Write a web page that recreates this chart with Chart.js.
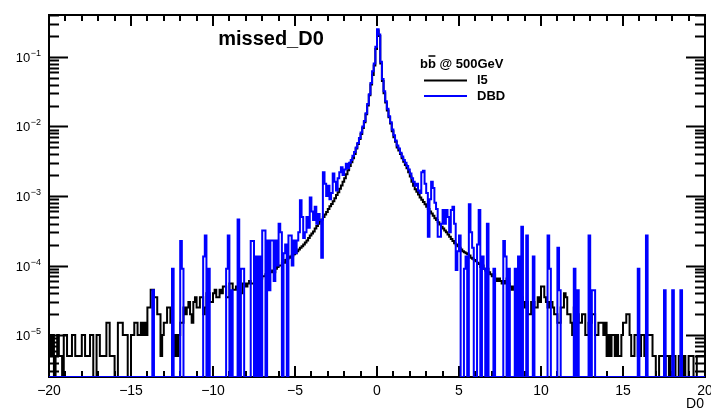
<!DOCTYPE html>
<html>
<head>
<meta charset="utf-8">
<script src="https://cdn.jsdelivr.net/npm/chart.js@4/dist/chart.umd.min.js"></script>
<style>
  html, body { margin: 0; padding: 0; background: #fff; }
  canvas { display: block; }
</style>
</head>
<body>
<canvas id="d0" width="711" height="411"></canvas>
<script>
// missed_D0 : impact parameter of missed tracks, bb @ 500GeV, two detector models
const X_MIN = -20, X_MAX = 20, BIN_W = 0.1;
const Y_MIN = 2.5e-6, Y_MAX = 0.4;
const X_TICKS = [-20, -15, -10, -5, 0, 5, 10, 15, 20];
const Y_DECADES = [-5, -4, -3, -2, -1];

// normalised bin contents, 400 bins of 0.1 from -20 to 20
const i5Counts = [
  1e-5, 5e-6, 1e-5, 0, 5e-6, 1e-5, 5e-6, 5e-6, 0, 1e-5,
  1e-5, 5e-6, 5e-6, 5e-6, 1e-5, 1e-5, 5e-6, 5e-6, 5e-6, 5e-6,
  1e-5, 1e-5, 5e-6, 5e-6, 5e-6, 1e-5, 1e-5, 0, 0, 1e-5,
  1e-5, 5e-6, 5e-6, 5e-6, 5e-6, 1.5e-5, 1.5e-5, 5e-6, 5e-6, 5e-6,
  0, 0, 1.5e-5, 1.5e-5, 1.5e-5, 1e-5, 1e-5, 1e-5, 0, 0,
  1e-5, 1e-5, 1.5e-5, 1.5e-5, 1e-5, 1e-5, 1.5e-5, 1e-5, 1.5e-5, 1e-5,
  2.5e-5, 2.5e-5, 4.5e-5, 4.5e-5, 3.5e-5, 3.5e-5, 2e-5, 2e-5, 5e-6, 1e-5,
  1.5e-5, 1.5e-5, 2.5e-5, 2.5e-5, 1.5e-5, 1e-5, 5e-6, 1e-5, 5e-6, 1e-5,
  1.5e-5, 1.5e-5, 2.5e-5, 2e-5, 2.5e-5, 3e-5, 2e-5, 1.5e-5, 3e-5, 3.5e-5,
  2.5e-5, 2.5e-5, 3.5e-5, 3.5e-5, 2e-5, 2.5e-5, 4e-5, 4e-5, 3e-5, 3e-5,
  4e-5, 4.5e-5, 3.5e-5, 3.5e-5, 4.5e-5, 4e-5, 5e-5, 5e-5, 3.5e-5, 3.5e-5,
  5.5e-5, 5.5e-5, 4.5e-5, 4.5e-5, 5e-5, 5e-5, 4e-5, 4e-5, 5.5e-5, 5.5e-5,
  5e-5, 5.5e-5, 6e-5, 5.5e-5, 5.5e-5, 6e-5, 6.5e-5, 6e-5, 6e-5, 6.5e-5,
  7e-5, 7e-5, 7.5e-5, 7e-5, 8e-5, 8e-5, 8.5e-5, 8e-5, 9e-5, 9.5e-5,
  1e-4, 1e-4, 1.1e-4, 1.1e-4, 1.2e-4, 1.25e-4, 1.3e-4, 1.35e-4, 1.4e-4, 1.45e-4,
  1.5e-4, 1.6e-4, 1.7e-4, 1.8e-4, 1.9e-4, 2e-4, 2.15e-4, 2.3e-4, 2.5e-4, 2.7e-4,
  2.9e-4, 3.1e-4, 3.4e-4, 3.7e-4, 4e-4, 4.3e-4, 4.6e-4, 5e-4, 5.4e-4, 5.9e-4,
  6.5e-4, 7.1e-4, 7.7e-4, 8.4e-4, 9.3e-4, 1.03e-3, 1.13e-3, 1.27e-3, 1.42e-3, 1.6e-3,
  1.8e-3, 2.05e-3, 2.35e-3, 2.7e-3, 3.05e-3, 3.5e-3, 4e-3, 4.8e-3, 5.6e-3, 6.6e-3,
  7.8e-3, 9.5e-3, 1.15e-2, 1.5e-2, 2e-2, 2.8e-2, 4e-2, 5.5e-2, 7.5e-2, 0.13,
  0.24, 0.2, 0.08, 4.5e-2, 3e-2, 2.2e-2, 1.7e-2, 1.35e-2, 1.1e-2, 8.5e-3,
  7e-3, 6e-3, 5e-3, 4.5e-3, 4e-3, 3.5e-3, 3.1e-3, 2.8e-3, 2.5e-3, 2.2e-3,
  1.9e-3, 1.6e-3, 1.4e-3, 1.25e-3, 1.15e-3, 1.05e-3, 9.5e-4, 8.8e-4, 8.2e-4, 7.6e-4,
  7e-4, 6.5e-4, 6e-4, 5.6e-4, 5.2e-4, 4.8e-4, 4.5e-4, 4.2e-4, 3.9e-4, 3.6e-4,
  3.4e-4, 3.2e-4, 3e-4, 2.8e-4, 2.6e-4, 2.4e-4, 2.25e-4, 2.1e-4, 2e-4, 1.9e-4,
  1.8e-4, 1.7e-4, 1.6e-4, 1.55e-4, 1.5e-4, 1.45e-4, 1.4e-4, 1.3e-4, 1.25e-4, 1.2e-4,
  1.15e-4, 1.1e-4, 1.05e-4, 9.5e-5, 1e-4, 9e-5, 8.5e-5, 9e-5, 8e-5, 7.5e-5,
  7e-5, 7.5e-5, 6.5e-5, 6e-5, 6.5e-5, 6e-5, 5.5e-5, 6e-5, 5.5e-5, 6.5e-5,
  5.5e-5, 5e-5, 4.5e-5, 5e-5, 5e-5, 4.5e-5, 4e-5, 4.5e-5, 3.5e-5, 3e-5,
  2.5e-5, 3e-5, 2e-5, 2e-5, 3e-5, 3e-5, 2.5e-5, 2.5e-5, 3.5e-5, 3e-5,
  5e-5, 5e-5, 3.5e-5, 3e-5, 2.5e-5, 3e-5, 3e-5, 2.5e-5, 2e-5, 2e-5,
  1.5e-5, 1.5e-5, 2.5e-5, 2.5e-5, 4e-5, 3.5e-5, 2e-5, 2e-5, 1.5e-5, 1e-5,
  2.5e-5, 2.5e-5, 2e-5, 1.5e-5, 1.5e-5, 2e-5, 2e-5, 1e-5, 1e-5, 1.5e-5,
  1.5e-5, 2e-5, 2e-5, 1e-5, 1e-5, 1.5e-5, 1.5e-5, 1.5e-5, 1e-5, 1.5e-5,
  5e-6, 1e-5, 5e-6, 1e-5, 1e-5, 5e-6, 1e-5, 5e-6, 5e-6, 1e-5,
  1.5e-5, 1.5e-5, 2e-5, 2e-5, 1e-5, 5e-6, 5e-6, 1e-5, 1e-5, 5e-6,
  5e-6, 1e-5, 1e-5, 5e-6, 1e-5, 1e-5, 1e-5, 1e-5, 5e-6, 5e-6,
  0, 0, 5e-6, 5e-6, 5e-6, 0, 5e-6, 5e-6, 0, 5e-6,
  5e-6, 5e-6, 0, 0, 5e-6, 5e-6, 0, 5e-6, 0, 0,
  5e-6, 5e-6, 5e-6, 0, 0, 5e-6, 5e-6, 5e-6, 5e-6, 5e-6
];

const dbdCounts = [
  0, 0, 0, 0, 0, 0, 0, 0, 0, 0,
  0, 0, 0, 0, 0, 0, 0, 0, 0, 0,
  0, 0, 0, 0, 0, 0, 0, 0, 0, 0,
  0, 0, 0, 0, 0, 0, 0, 0, 0, 0,
  0, 0, 0, 0, 0, 0, 0, 0, 0, 0,
  0, 0, 0, 0, 0, 0, 0, 0, 0, 0,
  0, 0, 0, 4.4e-5, 0, 0, 0, 0, 0, 0,
  0, 0, 0, 0, 0, 9e-5, 0, 0, 0, 0,
  2.25e-4, 9e-5, 0, 0, 0, 0, 0, 0, 0, 0,
  0, 0, 0, 0, 1.35e-4, 2.7e-4, 0, 9e-5, 0, 0,
  0, 0, 0, 0, 0, 0, 0, 0, 9e-5, 2.7e-4,
  0, 4.4e-5, 0, 0, 0, 4.6e-4, 0, 9e-5, 9e-5, 0,
  0, 0, 0, 2.25e-4, 2.25e-4, 0, 1.35e-4, 0, 1.35e-4, 0,
  3.2e-4, 3.2e-4, 0, 2.3e-4, 4.4e-5, 2.3e-4, 2.3e-4, 6e-5, 2.3e-4, 1e-4,
  4e-4, 3e-4, 0, 1.5e-4, 2e-4, 0, 2.7e-4, 2.7e-4, 1e-4, 2.3e-4,
  1.5e-4, 2.3e-4, 3e-4, 8.7e-4, 5e-4, 2.5e-4, 3e-4, 5e-4, 3.5e-4, 9.5e-4,
  6e-4, 4.5e-4, 7e-4, 4e-4, 5.5e-4, 4.5e-4, 1.3e-4, 2.2e-3, 1.5e-3, 1e-3,
  1.4e-3, 9e-4, 1.1e-3, 2.1e-3, 1.6e-3, 1.2e-3, 1.8e-3, 2.2e-3, 2.6e-3, 2e-3,
  2.4e-3, 2.9e-3, 2.5e-3, 3e-3, 3.3e-3, 3.8e-3, 4.3e-3, 5e-3, 5.8e-3, 6.8e-3,
  8.2e-3, 1e-2, 1.2e-2, 1.55e-2, 2.1e-2, 2.9e-2, 4.2e-2, 6.2e-2, 8e-2, 0.14,
  0.25, 0.21, 0.085, 4.8e-2, 3.2e-2, 2.3e-2, 1.8e-2, 1.4e-2, 1.15e-2, 9e-3,
  7.5e-3, 6.3e-3, 5.3e-3, 4.8e-3, 4.2e-3, 3.7e-3, 3.3e-3, 3e-3, 2.7e-3, 2.4e-3,
  2.1e-3, 1.8e-3, 1.6e-3, 1.4e-3, 1.5e-3, 1.2e-3, 1.1e-3, 2.2e-3, 2.3e-3, 1.5e-3,
  1.1e-3, 2.6e-4, 9e-4, 1.6e-3, 1.3e-3, 8e-4, 6.5e-4, 2.6e-4, 2.6e-4, 4e-4,
  6.3e-4, 4e-4, 6.3e-4, 5e-4, 3e-4, 6.3e-4, 7e-4, 4e-4, 8.6e-5, 1.6e-4,
  2.7e-4, 0, 0, 9e-5, 1.35e-4, 0, 7.6e-4, 3e-4, 1.8e-4, 0,
  0, 2e-4, 6.3e-4, 0, 1.35e-4, 9e-5, 0, 4e-4, 0, 0,
  0, 9e-5, 0, 0, 0, 0, 0, 2.25e-4, 1.35e-4, 0,
  9e-5, 0, 0, 0, 9e-5, 0, 1.35e-4, 0, 3.6e-4, 0,
  0, 2.7e-4, 0, 0, 0, 1.35e-4, 0, 0, 0, 0,
  0, 0, 0, 0, 2.7e-4, 9e-5, 0, 0, 0, 0,
  1.8e-4, 4.4e-5, 0, 0, 0, 0, 0, 0, 0, 0,
  9e-5, 0, 4.4e-5, 0, 0, 0, 0, 0, 0, 2.7e-4,
  0, 4.4e-5, 4.4e-5, 0, 0, 0, 0, 0, 0, 0,
  0, 0, 0, 0, 0, 0, 0, 0, 0, 0,
  0, 0, 0, 0, 0, 0, 0, 0, 0, 9e-5,
  0, 0, 0, 0, 2.7e-4, 0, 0, 0, 0, 0,
  0, 0, 0, 0, 0, 4.4e-5, 0, 0, 0, 0,
  4.4e-5, 0, 0, 0, 0, 4.4e-5, 0, 0, 0, 0,
  0, 0, 0, 0, 0, 0, 0, 0, 0, 0
];

const FONT = '"Liberation Sans", Arial, Helvetica, sans-serif';

// histogram outline: one point per lower bin edge, plus the last upper edge.
// empty bins sit on the bottom of the frame like in a ROOT "HIST" draw
function toSteps(counts) {
  const pts = counts.map((c, i) => ({ x: X_MIN + i * BIN_W, y: Math.max(c, Y_MIN) }));
  pts.push({ x: X_MIN + counts.length * BIN_W, y: Math.max(counts[counts.length - 1], Y_MIN) });
  return pts;
}

function minus(v) { return v < 0 ? '\u2212' + Math.abs(v) : String(v); }

// ROOT style frame: inward ticks on all four sides
const rootFrame = {
  id: 'rootFrame',
  beforeDatasetsDraw(chart) {
    const { ctx, chartArea: a, scales: { x, y } } = chart;
    ctx.save();
    ctx.strokeStyle = '#000';
    ctx.lineWidth = 2;
    ctx.beginPath();
    for (let v = X_MIN; v <= X_MAX; v++) {
      const px = Math.round(x.getPixelForValue(v));
      const len = v % 5 === 0 ? 11 : 6;
      ctx.moveTo(px, a.bottom); ctx.lineTo(px, a.bottom - len);
      ctx.moveTo(px, a.top); ctx.lineTo(px, a.top + len);
    }
    for (let e = -6; e <= 0; e++) {
      for (let m = 1; m <= 9; m++) {
        const v = m * Math.pow(10, e);
        if (v < Y_MIN || v > Y_MAX) continue;
        const py = Math.round(y.getPixelForValue(v)) + 0.5;
        const len = m === 1 ? 19 : 10;
        ctx.moveTo(a.left, py); ctx.lineTo(a.left + len, py);
        ctx.moveTo(a.right, py); ctx.lineTo(a.right - len, py);
      }
    }
    ctx.stroke();
    ctx.strokeRect(a.left, a.top, a.right - a.left, a.bottom - a.top);
    ctx.restore();
  },
  afterDraw(chart) {
    const { ctx, scales: { y } } = chart;
    ctx.save();
    ctx.fillStyle = '#000';

    // y labels as 10^{n}
    ctx.textBaseline = 'alphabetic';
    Y_DECADES.forEach(e => {
      const py = y.getPixelForValue(Math.pow(10, e));
      const exp = '\u2212' + Math.abs(e);
      ctx.font = '9px ' + FONT;
      const we = ctx.measureText(exp).width;
      ctx.textAlign = 'right';
      ctx.fillText(exp, 41, py - 1);
      ctx.font = '13px ' + FONT;
      ctx.fillText('10', 41 - we - 0.5, py + 5);
    });

    // title
    ctx.font = 'bold 20px ' + FONT;
    ctx.textAlign = 'center';
    ctx.fillText('missed_D0', 271, 45);

    // axis title
    ctx.font = '14px ' + FONT;
    ctx.textAlign = 'right';
    ctx.fillText('D0', 704, 408);

    // legend
    const lx = 420;
    ctx.font = 'bold 13px ' + FONT;
    ctx.textAlign = 'left';
    ctx.fillText('bb @ 500GeV', lx, 68);
    const wb = ctx.measureText('b').width;
    ctx.lineWidth = 1.5;
    ctx.beginPath();
    ctx.moveTo(lx + wb + 0.5, 56); ctx.lineTo(lx + 2 * wb - 0.5, 56);
    ctx.stroke();

    ctx.textBaseline = 'middle';
    const rows = [80.5, 96];
    chart.data.datasets.forEach((ds, k) => {
      const ly = rows[k];
      ctx.strokeStyle = ds.borderColor;
      ctx.lineWidth = 2;
      ctx.beginPath();
      ctx.moveTo(424, ly); ctx.lineTo(467, ly);
      ctx.stroke();
      ctx.fillText(ds.label, 477, ly);
    });
    ctx.restore();
  }
};

new Chart(document.getElementById('d0'), {
  type: 'line',
  data: {
    datasets: [
      { label: 'l5', data: toSteps(i5Counts), borderColor: '#000000', borderWidth: 2,
        stepped: 'before', pointRadius: 0, fill: false, order: 2 },
      { label: 'DBD', data: toSteps(dbdCounts), borderColor: '#0000ff', borderWidth: 2,
        stepped: 'before', pointRadius: 0, fill: false, order: 1 }
    ]
  },
  options: {
    responsive: false,
    animation: false,
    events: [],
    layout: { padding: { left: 0, right: 6, top: 15, bottom: 0 } },
    plugins: { legend: { display: false }, tooltip: { enabled: false } },
    scales: {
      x: {
        type: 'linear', min: X_MIN, max: X_MAX,
        grid: { display: false, drawTicks: false },
        border: { display: false },
        afterBuildTicks: s => { s.ticks = X_TICKS.map(v => ({ value: v })); },
        ticks: { color: '#000', font: { family: FONT, size: 14 }, padding: 6,
                 maxRotation: 0, autoSkip: false, callback: v => minus(v) },
        afterFit: s => { s.height = 34; s.paddingLeft = 0; s.paddingRight = 0; }
      },
      y: {
        type: 'logarithmic', min: Y_MIN, max: Y_MAX,
        grid: { display: false, drawTicks: false },
        border: { display: false },
        ticks: { display: false },
        afterFit: s => { s.width = 49; s.paddingTop = 0; s.paddingBottom = 0; }
      }
    }
  },
  plugins: [rootFrame]
});
</script>
</body>
</html>
